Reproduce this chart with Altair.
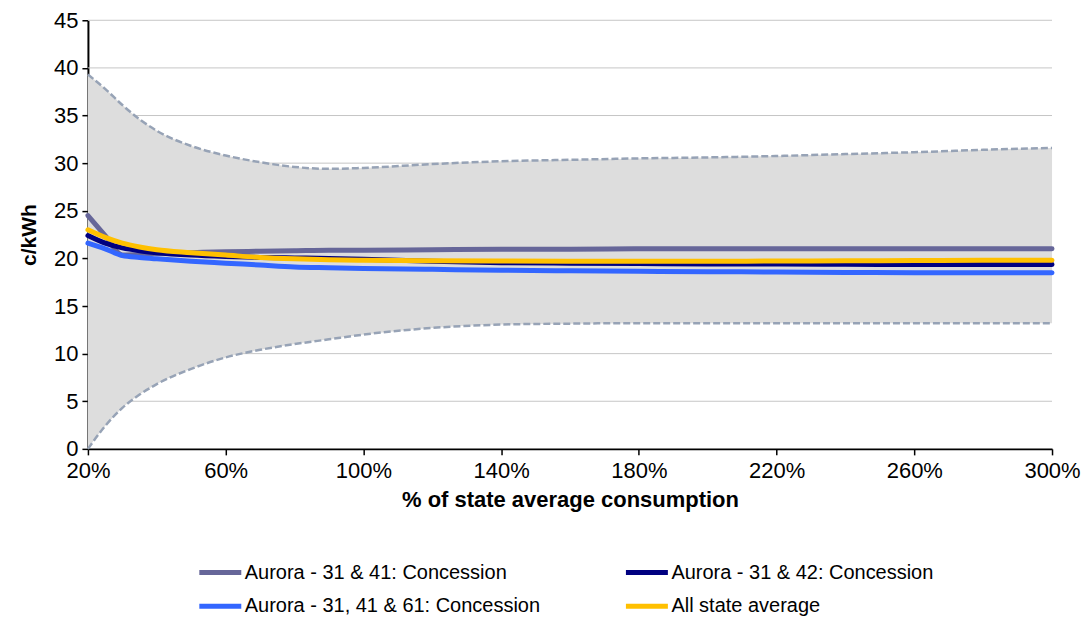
import altair as alt
import pandas as pd

# ---- data ----
xs = [20, 25, 30, 35, 40, 50, 60, 70, 80, 90, 100, 120, 140, 160, 180, 200, 220, 240, 260, 280, 300]
upper = [39.3, 37.8, 36.1, 34.6, 33.4, 31.8, 30.8, 30.1, 29.6, 29.4, 29.5, 29.9, 30.2, 30.35, 30.5,
         30.6, 30.75, 30.95, 31.15, 31.4, 31.6]
lower = [0.0, 2.4, 4.3, 5.7, 6.8, 8.4, 9.6, 10.4, 11.0, 11.5, 12.0, 12.7, 13.05, 13.15, 13.2,
         13.2, 13.2, 13.2, 13.2, 13.2, 13.2]
s_31_41 = [24.5, 22.4, 20.35, 20.4, 20.5, 20.6, 20.7, 20.75, 20.8, 20.85, 20.85, 20.9, 20.95, 20.95,
           21.0, 21.0, 21.0, 21.0, 21.0, 21.0, 21.0]
s_31_42 = [22.4, 21.6, 21.1, 20.8, 20.6, 20.35, 20.2, 20.1, 20.05, 20.0, 19.9, 19.7, 19.55, 19.5,
           19.45, 19.4, 19.4, 19.38, 19.36, 19.35, 19.35]
s_31_41_61 = [21.6, 21.0, 20.3, 20.1, 19.95, 19.7, 19.5, 19.3, 19.1, 19.02, 18.95, 18.85, 18.75, 18.7,
              18.65, 18.6, 18.57, 18.53, 18.5, 18.5, 18.5]
s_avg = [23.0, 22.2, 21.6, 21.2, 20.9, 20.6, 20.35, 20.1, 19.95, 19.85, 19.8, 19.75, 19.72, 19.7,
         19.7, 19.7, 19.72, 19.75, 19.77, 19.8, 19.8]

series_names = ["Aurora - 31 & 41: Concession", "Aurora - 31 & 42: Concession",
                "Aurora - 31, 41 & 61: Concession", "All state average"]
series_values = [s_31_41, s_31_42, s_31_41_61, s_avg]
series_colors = ["#666699", "#000080", "#3366FF", "#FFC000"]

y_ticks = [0, 5, 10, 15, 20, 25, 30, 35, 40, 45]
grid_values = [5, 10, 15, 20, 25, 30, 35, 40, 45]
x_ticks = [20, 60, 100, 140, 180, 220, 260, 300]

FONT = "Liberation Sans, Arial, sans-serif"

band = pd.DataFrame({"x": xs, "lo": lower, "hi": upper})
lines = pd.concat(
    [pd.DataFrame({"x": xs, "v": vals, "series": name}) for name, vals in zip(series_names, series_values)],
    ignore_index=True,
)

xscale = alt.Scale(domain=[20, 300], nice=False, zero=False)
yscale = alt.Scale(domain=[0, 45], nice=False)

x_axis = alt.Axis(values=x_ticks, labelExpr="datum.value + '%'", grid=False, labelFlush=False,
                  labelFontSize=22, titleFontSize=22, titlePadding=8, labelPadding=6)
y_axis = alt.Axis(values=y_ticks, grid=False,
                  labelFontSize=22, titleFontSize=21, titlePadding=14, labelPadding=4)

XT = "% of state average consumption"
YT = "c/kWh"

grid = alt.Chart(pd.DataFrame({"g": grid_values})).mark_rule(color="#C6C6C6", strokeWidth=1).encode(
    y=alt.Y("g:Q", scale=yscale, axis=y_axis, title=YT)
)

area = alt.Chart(band).mark_area(color="#DDDDDD", interpolate="monotone").encode(
    x=alt.X("x:Q", scale=xscale, axis=x_axis, title=XT),
    y=alt.Y("lo:Q", scale=yscale, axis=y_axis, title=YT),
    y2="hi:Q",
)

dash_hi = alt.Chart(band).mark_line(color="#97A3B6", strokeDash=[7, 3], strokeWidth=2.5,
                                    interpolate="monotone").encode(
    x=alt.X("x:Q", scale=xscale, axis=x_axis, title=XT),
    y=alt.Y("hi:Q", scale=yscale, axis=y_axis, title=YT),
)
dash_lo = alt.Chart(band).mark_line(color="#97A3B6", strokeDash=[7, 3], strokeWidth=2.5,
                                    interpolate="monotone").encode(
    x=alt.X("x:Q", scale=xscale, axis=x_axis, title=XT),
    y=alt.Y("lo:Q", scale=yscale, axis=y_axis, title=YT),
)

color = alt.Color(
    "series:N",
    scale=alt.Scale(domain=series_names, range=series_colors),
    legend=alt.Legend(
        title=None, orient="none", direction="horizontal", legendX=109, legendY=529, columns=2,
        columnPadding=75, rowPadding=-19, symbolType="M-1,0H1", symbolSize=1764, symbolStrokeWidth=5,
        labelFont=FONT, labelFontSize=20, labelColor="black", labelOffset=1, labelLimit=400,
    ),
)

series_layers = []
for name in series_names:
    series_layers.append(
        alt.Chart(lines).transform_filter(alt.datum.series == name).mark_line(
            strokeWidth=5, interpolate="monotone", strokeCap="round"
        ).encode(
            x=alt.X("x:Q", scale=xscale, axis=x_axis, title=XT),
            y=alt.Y("v:Q", scale=yscale, axis=y_axis, title=YT),
            color=color,
        )
    )

chart = alt.layer(grid, area, dash_hi, dash_lo, *series_layers).properties(
    width=965,
    height=429,
    autosize=alt.AutoSizeParams(type="none"),
    padding={"left": 80, "top": 12, "right": 30, "bottom": 172},
    background="white",
).configure_view(stroke=None).configure_axis(
    grid=False, domainColor="black", domainWidth=2, tickColor="black", tickWidth=1.5, tickSize=6,
    labelFont=FONT, labelFontSize=22, labelColor="black",
    titleFont=FONT, titleFontWeight="bold", titleColor="black", zindex=2,
)

chart.save("out.html", embed_options={"renderer": "svg", "actions": False})
